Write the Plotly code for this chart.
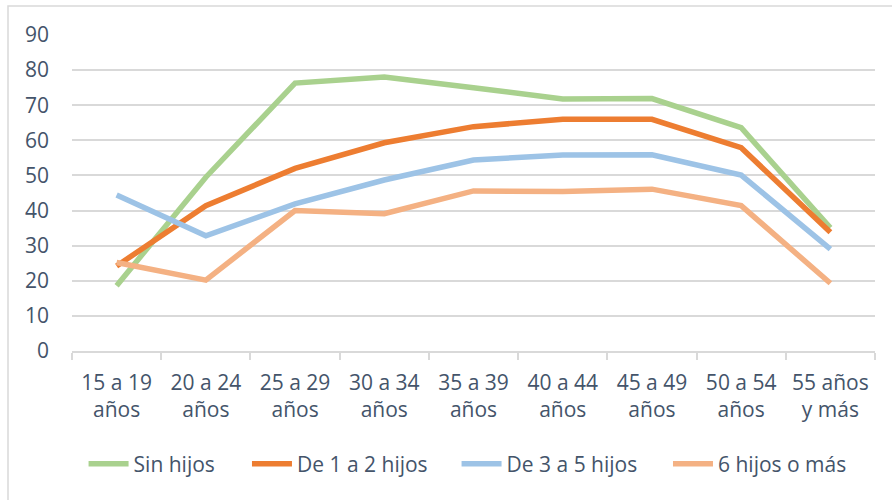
import plotly.graph_objects as go

categories = ["15 a 19<br>años", "20 a 24<br>años", "25 a 29<br>años", "30 a 34<br>años",
              "35 a 39<br>años", "40 a 44<br>años", "45 a 49<br>años", "50 a 54<br>años",
              "55 años<br>y más"]
sin_hijos = [18.6, 49.5, 76.3, 78.0, 75.0, 71.8, 71.9, 63.6, 35.1]
de_1_a_2 = [24.2, 41.4, 52.0, 59.3, 63.9, 66.0, 66.0, 57.9, 33.8]
de_3_a_5 = [44.4, 32.8, 41.9, 48.7, 54.4, 55.8, 55.9, 50.1, 29.0]
seis_mas = [25.2, 20.2, 40.0, 39.1, 45.6, 45.4, 46.1, 41.4, 19.3]
series_names = ["Sin hijos", "De 1 a 2 hijos", "De 3 a 5 hijos", "6 hijos o más"]
colors = ["#A9D18E", "#ED7D31", "#9DC3E6", "#F4B183"]
y_ticks = [0, 10, 20, 30, 40, 50, 60, 70, 80, 90]

FONT = "Open Sans"
TXT = "#44546A"
legend_ids = ["legend", "legend2", "legend3", "legend4"]
legend_x = [0.0144, 0.2179, 0.4789, 0.7422]

fig = go.Figure()
for name, vals, col, lid in zip(series_names, [sin_hijos, de_1_a_2, de_3_a_5, seis_mas], colors, legend_ids):
    fig.add_trace(go.Scatter(x=categories, y=vals, mode="lines", name=name, legend=lid,
                             line=dict(color=col, width=5.5, shape="linear"),
                             hoverinfo="skip"))

legend_cfg = {}
for lid, lx in zip(legend_ids, legend_x):
    legend_cfg[lid] = dict(orientation="h", x=lx, xanchor="left", y=-0.358, yanchor="middle",
                           font=dict(family=FONT, size=21, color=TXT), itemwidth=40,
                           bgcolor="rgba(0,0,0,0)", borderwidth=0)

fig.update_layout(
    width=892, height=500,
    margin=dict(l=72, r=17, t=35, b=149, autoexpand=False),
    paper_bgcolor="white", plot_bgcolor="white",
    font=dict(family=FONT, size=21, color=TXT),
    showlegend=True,
    xaxis=dict(type="category", showgrid=False, showline=True, linecolor="#D9D9D9", linewidth=1.5,
               ticks="outside", tickson="boundaries", ticklen=7, tickcolor="#D9D9D9", tickwidth=1.5,
               tickfont=dict(family=FONT, size=21, color=TXT), ticklabelstandoff=12,
               range=[-0.5, 8.5], fixedrange=True, automargin=False),
    yaxis=dict(range=[0, 90], tickvals=y_ticks, showgrid=True, gridcolor="#D9D9D9", gridwidth=1.5,
               zeroline=False, showline=False, ticks="",
               tickfont=dict(family=FONT, size=21, color=TXT), ticklabelstandoff=22,
               automargin=False, fixedrange=True),
    shapes=[dict(type="rect", xref="paper", yref="paper", x0=-0.0797, x1=1.04, y0=-0.52, y1=1.0918,
                 line=dict(color="#D9D9D9", width=1.5), fillcolor="rgba(0,0,0,0)", layer="below")],
    **legend_cfg,
)

fig.write_html("out.html", config={"displayModeBar": False},
               post_script="document.body.style.margin='0px';")
